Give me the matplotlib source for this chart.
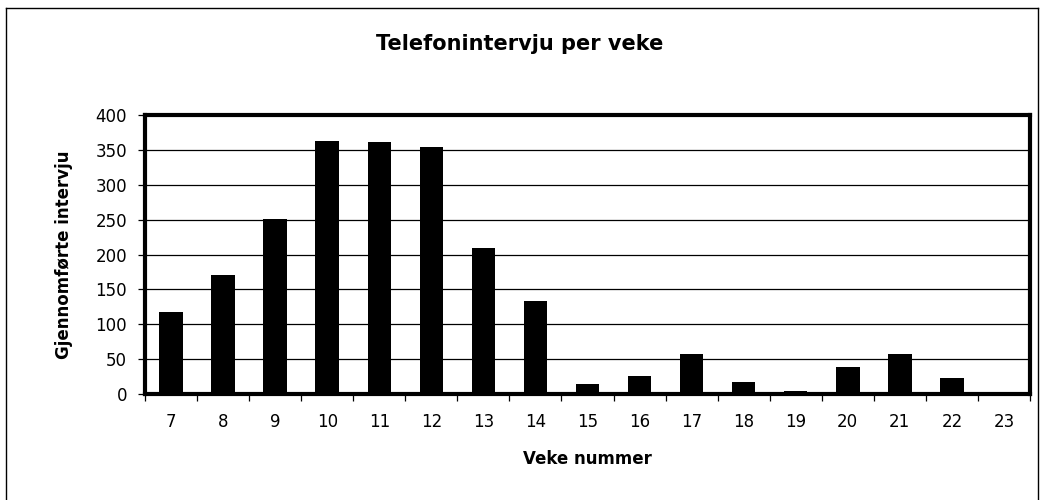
import matplotlib
matplotlib.use("Agg")
import matplotlib.pyplot as plt
from matplotlib.lines import Line2D
import numpy as np

plt.rcParams["font.family"] = ["DejaVu Sans"]

weeks = ["7", "8", "9", "10", "11", "12", "13", "14", "15", "16", "17", "18", "19", "20", "21", "22", "23"]
interviews = [117, 171, 251, 363, 362, 354, 210, 133, 14, 26, 58, 17, 4, 39, 58, 23, 0]
y_ticks = [0, 50, 100, 150, 200, 250, 300, 350, 400]

fig = plt.figure(figsize=(10.42, 5.0), dpi=100)
ax = fig.add_axes([145 / 1042, 1 - 394 / 500, 885 / 1042, 279 / 500])

x = np.arange(len(weeks))
ax.bar(x, interviews, width=0.45, color="black", zorder=3)

ax.set_xlim(-0.5, len(weeks) - 0.5)
ax.set_ylim(0, 400)
ax.set_yticks(y_ticks)
ax.set_yticklabels([str(v) for v in y_ticks], fontsize=12)
ax.yaxis.grid(True, color="black", linewidth=0.9, zorder=1)
ax.set_axisbelow(True)

ax.set_xticks(x)
ax.set_xticklabels(weeks, fontsize=12)
ax.set_xticks(np.arange(len(weeks) + 1) - 0.5, minor=True)
ax.tick_params(axis="x", which="major", length=0, pad=14)
ax.tick_params(axis="x", which="minor", length=5, width=0.9, direction="out")
ax.tick_params(axis="y", length=5, width=0.9, direction="out", pad=8)

for sp in ax.spines.values():
    sp.set_linewidth(3)
    sp.set_color("black")

ax.set_xlabel("Veke nummer", fontsize=12, fontweight="bold", labelpad=13)
ax.set_ylabel("Gjennomførte intervju", fontsize=12, fontweight="bold", labelpad=16)
fig.text(520 / 1042, 1 - 44 / 500, "Telefonintervju per veke", ha="center", va="center",
         fontsize=15, fontweight="bold")

# outer chart border (thin)
fig.add_artist(Line2D([6 / 1042, 6 / 1042], [0, 1 - 8 / 500], transform=fig.transFigure, color="black", lw=1))
fig.add_artist(Line2D([6 / 1042, 1038 / 1042], [1 - 8 / 500, 1 - 8 / 500], transform=fig.transFigure, color="black", lw=1))
fig.add_artist(Line2D([1038 / 1042, 1038 / 1042], [0, 1 - 8 / 500], transform=fig.transFigure, color="black", lw=1))

fig.savefig("out.png", dpi=100)
